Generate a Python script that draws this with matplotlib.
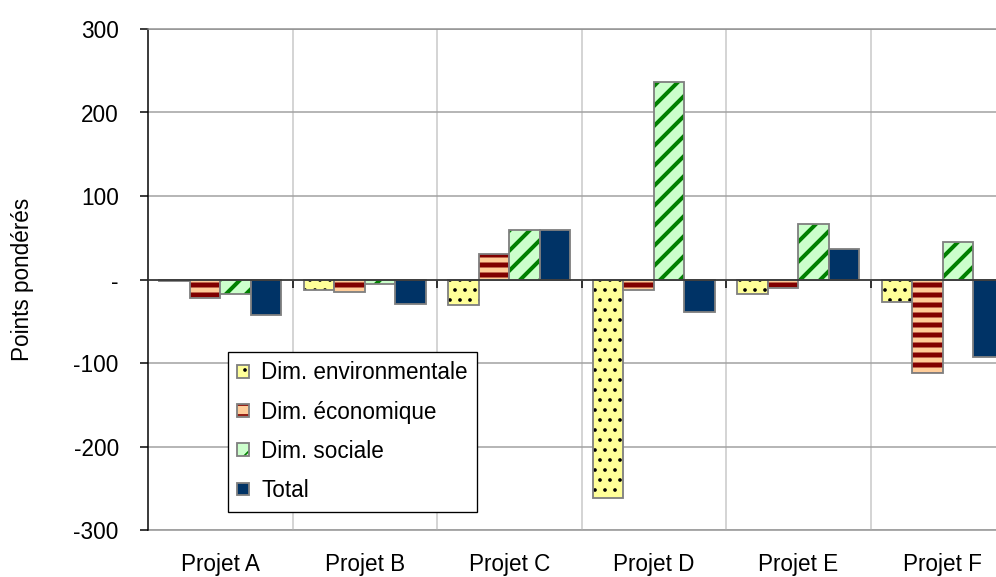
import matplotlib.pyplot as plt
import numpy as np

projets = ['Projet A', 'Projet B', 'Projet C', 'Projet D', 'Projet E', 'Projet F']
dim_env = [-2, -12, -31, -262, -17, -27]
dim_eco = [-22, -15, 30, -12, -10, -112]
dim_soc = [-17, -5, 59, 237, 66, 45]
total = [-43, -29, 59, -39, 37, -93]
noms_series = ['Dim. environmentale', 'Dim. économique', 'Dim. sociale', 'Total']
yticks = [-300, -200, -100, 0, 100, 200, 300]
ytick_labels = ['-300', '-200', '-100', '-', '100', '200', '300']

# face, motif, couleur du motif, epaisseur du motif
styles = [
    ('#ffff99', '..', '#000000', 1.0),
    ('#ffcc99', '--', '#800000', 3.0),
    ('#ccffcc', '//', '#008000', 2.4),
    ('#003366', '', '#003366', 1.0),
]

plt.rcParams['font.family'] = ['Liberation Sans', 'DejaVu Sans']
plt.rcParams['font.size'] = 13.5

fig = plt.figure(figsize=(996 / 120, 577 / 120), dpi=120)
ax = fig.add_axes([148 / 996, 1 - 530 / 577, 867 / 996, 501 / 577])

x = np.arange(len(projets))
w = 0.211
poignees = []
for k, (vals, (face, motif, hcol, hlw)) in enumerate(zip([dim_env, dim_eco, dim_soc, total], styles)):
    pos = x + (k - 1.5) * w
    fond = ax.bar(pos, vals, w, color=face, linewidth=0, zorder=3)
    parts = [fond]
    if motif:
        # le motif prend la couleur du bord, d'ou une barre separee sans trait
        with plt.rc_context({'hatch.linewidth': hlw}):
            m = ax.bar(pos, vals, w, facecolor='none', edgecolor=hcol,
                       linewidth=0, hatch=motif, zorder=3)
        parts.append(m)
    cadre = ax.bar(pos, vals, w, fill=False, edgecolor='#808080', linewidth=1.1, zorder=3)
    parts.append(cadre)
    poignees.append(tuple(parts))

ax.set_xlim(-0.5, 5.5)
ax.set_ylim(-300, 300)
ax.set_yticks(yticks, ytick_labels)
ax.tick_params(axis='y', length=5, width=0.9, pad=12.5, color='black')

# axe des x sur la ligne zero, traits aux limites des projets
ax.spines['bottom'].set_position(('data', 0))
ax.spines['bottom'].set_color('#333333')
ax.spines['bottom'].set_linewidth(1.0)
ax.spines['bottom'].set_zorder(4)
ax.set_xticks(x)
ax.set_xticks(x[:-1] + 0.5, minor=True)
ax.tick_params(axis='x', which='major', length=0, labelbottom=False)
ax.tick_params(axis='x', which='minor', length=5, width=0.9, direction='out', color='black')
ax.spines['left'].set_color('black')
ax.spines['left'].set_linewidth(0.9)
ax.spines['top'].set_color('#909090')
ax.spines['top'].set_linewidth(0.9)
ax.spines['right'].set_color('#c8c8c8')

ax.grid(axis='y', which='major', color='#a0a0a0', linewidth=0.9, zorder=0)
ax.grid(axis='x', which='minor', color='#c8c8c8', linewidth=0.9, zorder=0)
ax.set_axisbelow(True)

# libelles des projets en bas du cadre
sec = ax.secondary_xaxis('bottom')
sec.set_xticks(x, projets)
sec.tick_params(length=0, pad=13.5)
sec.spines['bottom'].set_color('#909090')
sec.spines['bottom'].set_linewidth(0.9)

ax.set_ylabel('Points pondérés')
ax.yaxis.set_label_coords(-0.131, 0.5)

leg = ax.legend(poignees, noms_series, loc='upper left', bbox_to_anchor=(228 / 996, 1 - 352 / 577),
                bbox_transform=fig.transFigure, borderaxespad=0, fancybox=False,
                edgecolor='black', framealpha=1, handlelength=0.5, handleheight=0.5,
                handletextpad=0.55, labelspacing=0.72, borderpad=0.42)
leg.get_frame().set_linewidth(0.8)
leg.set_zorder(5)

fig.savefig('out.png', dpi=120)
